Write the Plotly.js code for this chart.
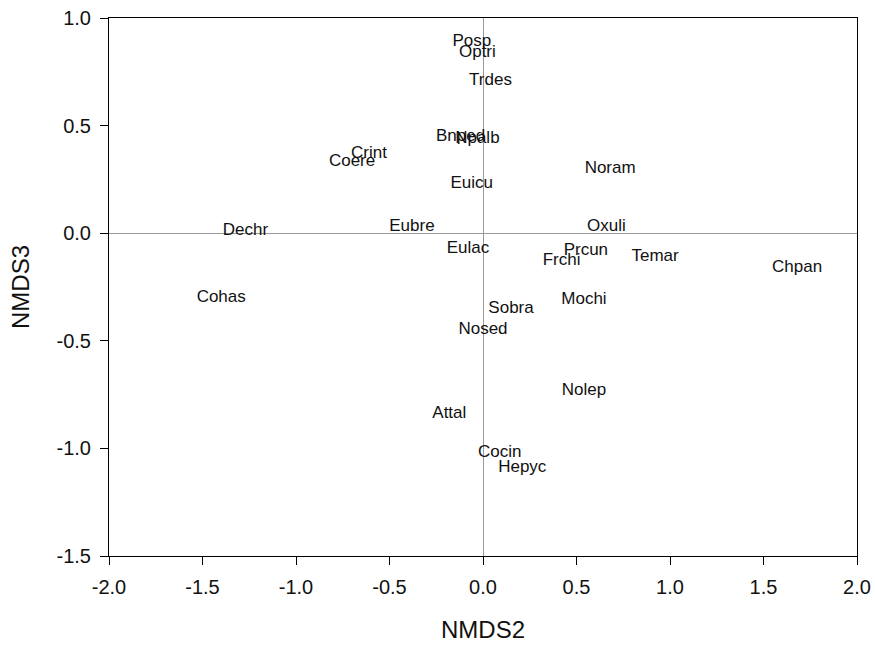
<!DOCTYPE html>
<html>
<head>
<meta charset="utf-8">
<script src="https://cdn.plot.ly/plotly-3.0.1.min.js"></script>
<style>html,body{margin:0;padding:0;background:#fff;}#plot{width:875px;height:645px;}</style>
</head>
<body>
<div id="plot"></div>
<script>
// Species codes and their NMDS ordination scores (axis 2 vs axis 3)
const species = ["Posp","Optri","Trdes","Bnped","Npalb","Euicu","Crint","Coere","Dechr","Eubre",
  "Eulac","Sobra","Nosed","Noram","Oxuli","Prcun","Frchi","Temar","Chpan","Cohas",
  "Mochi","Nolep","Attal","Cocin","Hepyc"];
const nmds2 = [-0.06,-0.03,0.04,-0.12,-0.03,-0.06,-0.61,-0.70,-1.27,-0.38,
  -0.08,0.15,0.00,0.68,0.66,0.55,0.42,0.92,1.68,-1.40,
  0.54,0.54,-0.18,0.09,0.21];
const nmds3 = [0.89,0.84,0.71,0.45,0.44,0.23,0.37,0.33,0.01,0.03,
  -0.07,-0.35,-0.45,0.30,0.03,-0.08,-0.13,-0.11,-0.16,-0.30,
  -0.31,-0.73,-0.84,-1.02,-1.09];

// Tick positions and their printed labels (plain hyphen for negatives)
const xTicks = [-2.0,-1.5,-1.0,-0.5,0.0,0.5,1.0,1.5,2.0];
const xTickText = ["-2.0","-1.5","-1.0","-0.5","0.0","0.5","1.0","1.5","2.0"];
const yTicks = [-1.5,-1.0,-0.5,0.0,0.5,1.0];
const yTickText = ["-1.5","-1.0","-0.5","0.0","0.5","1.0"];

const FONT = "Liberation Sans, Arial, sans-serif";

const trace = {
  x: nmds2, y: nmds3, text: species,
  type: "scatter", mode: "text",
  textposition: "middle center",
  textfont: {family: FONT, size: 17, color: "#111"},
  hoverinfo: "text"
};

const axisBase = {
  showgrid: false, zeroline: true, zerolinecolor: "#9a9a9a", zerolinewidth: 1,
  showline: true, linecolor: "#000", linewidth: 1, mirror: true,
  ticks: "outside", ticklen: 8, tickcolor: "#000", tickwidth: 1,
  tickfont: {family: FONT, size: 20, color: "#111"},
  ticklabelstandoff: 5,
  tickmode: "array"
};

const layout = {
  width: 875, height: 645,
  margin: {l: 109, r: 18, t: 18, b: 89},
  paper_bgcolor: "#fff", plot_bgcolor: "#fff",
  showlegend: false,
  xaxis: Object.assign({}, axisBase, {
    range: [-2, 2], tickvals: xTicks, ticktext: xTickText,
    title: {text: "NMDS2", font: {family: FONT, size: 24, color: "#111"}, standoff: 24}
  }),
  yaxis: Object.assign({}, axisBase, {
    range: [-1.5, 1.0], tickvals: yTicks, ticktext: yTickText,
    title: {text: "NMDS3", font: {family: FONT, size: 24, color: "#111"}, standoff: 20}
  })
};

Plotly.newPlot("plot", [trace], layout, {staticPlot: true});
</script>
</body>
</html>
